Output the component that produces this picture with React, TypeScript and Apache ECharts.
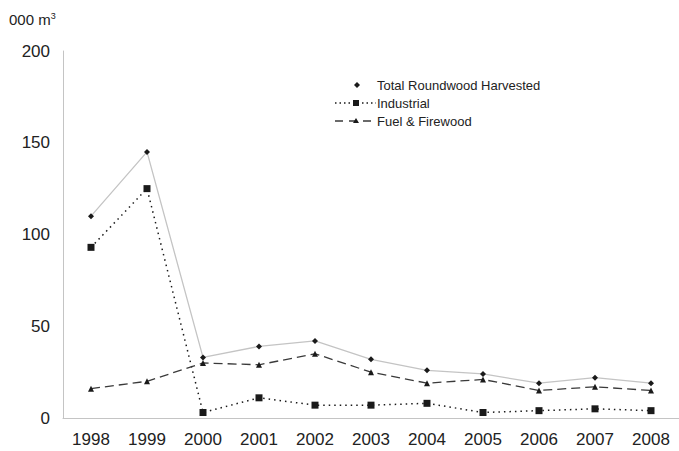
import React, { useEffect, useRef } from "react";
import * as echarts from "echarts";

const years = ["1998", "1999", "2000", "2001", "2002", "2003", "2004", "2005", "2006", "2007", "2008"];
const totalRoundwood = [110, 145, 33, 39, 42, 32, 26, 24, 19, 22, 19];
const industrial = [93, 125, 3, 11, 7, 7, 8, 3, 4, 5, 4];
const fuelFirewood = [16, 20, 30, 29, 35, 25, 19, 21, 15, 17, 15];
const yTicks = { min: 0, max: 200, interval: 50 };

const FONT = "'Liberation Sans', Arial, sans-serif";

export default function App() {
  const ref = useRef<HTMLDivElement>(null);
  useEffect(() => {
    if (!ref.current) return;
    const chart = echarts.init(ref.current, undefined, { renderer: "svg" });
    const legendY = [85, 103, 121];
    chart.setOption({
      animation: false,
      backgroundColor: "#ffffff",
      grid: { left: 63, top: 51, bottom: 33, right: -9, containLabel: false },
      xAxis: {
        type: "category",
        data: years,
        boundaryGap: true,
        axisLine: { show: true, lineStyle: { color: "#c4c4c4", width: 1 } },
        axisTick: { show: false },
        axisLabel: { color: "#222", fontFamily: FONT, fontSize: 17, margin: 13 },
        splitLine: { show: false },
      },
      yAxis: {
        type: "value",
        min: yTicks.min,
        max: yTicks.max,
        interval: yTicks.interval,
        axisLine: { show: true, lineStyle: { color: "#c4c4c4", width: 1 } },
        axisTick: { show: false },
        axisLabel: { color: "#222", fontFamily: FONT, fontSize: 17, margin: 13 },
        splitLine: { show: false },
      },
      series: [
        {
          name: "Total Roundwood Harvested",
          type: "line",
          data: totalRoundwood,
          symbol: "diamond",
          symbolSize: 6,
          itemStyle: { color: "#1a1a1a" },
          lineStyle: { color: "#c4c4c4", width: 1.3, type: "solid" },
          z: 3,
        },
        {
          name: "Industrial",
          type: "line",
          data: industrial,
          symbol: "rect",
          symbolSize: 7,
          itemStyle: { color: "#1a1a1a" },
          lineStyle: { color: "#1a1a1a", width: 1.5, type: [1.5, 4] },
          z: 2,
        },
        {
          name: "Fuel & Firewood",
          type: "line",
          data: fuelFirewood,
          symbol: "triangle",
          symbolSize: 6,
          itemStyle: { color: "#1a1a1a" },
          lineStyle: { color: "#3a3a3a", width: 1.3, type: [9, 5] },
          z: 2,
        },
      ],
      graphic: [
        {
          type: "text",
          left: 9,
          top: 11,
          style: {
            text: "000 m{sup|3}",
            fontFamily: FONT,
            fontSize: 15,
            fill: "#222",
            rich: { sup: { fontSize: 9, verticalAlign: "top", padding: [0, 0, 7, 0], fill: "#222" } },
          },
        },
        // legend row 1
        { type: "polygon", shape: { points: [[357, legendY[0] - 3], [360, legendY[0]], [357, legendY[0] + 3], [354, legendY[0]]] }, style: { fill: "#1a1a1a" } },
        { type: "text", x: 377, y: legendY[0], style: { text: "Total Roundwood Harvested", fontFamily: FONT, fontSize: 13, fill: "#222", verticalAlign: "middle" } },
        // legend row 2
        { type: "line", shape: { x1: 335, y1: legendY[1], x2: 376, y2: legendY[1] }, style: { stroke: "#1a1a1a", lineWidth: 1.3, lineDash: [1.5, 3] } },
        { type: "rect", shape: { x: 353, y: legendY[1] - 3, width: 6, height: 6 }, style: { fill: "#1a1a1a" } },
        { type: "text", x: 377, y: legendY[1], style: { text: "Industrial", fontFamily: FONT, fontSize: 13, fill: "#222", verticalAlign: "middle" } },
        // legend row 3
        { type: "line", shape: { x1: 335, y1: legendY[2], x2: 373, y2: legendY[2] }, style: { stroke: "#3a3a3a", lineWidth: 1.3, lineDash: [8, 6] } },
        { type: "polygon", shape: { points: [[356, legendY[2] - 3], [359, legendY[2] + 2], [353, legendY[2] + 2]] }, style: { fill: "#1a1a1a" } },
        { type: "text", x: 377, y: legendY[2], style: { text: "Fuel & Firewood", fontFamily: FONT, fontSize: 13, fill: "#222", verticalAlign: "middle" } },
      ],
    });
    return () => chart.dispose();
  }, []);
  return <div ref={ref} style={{ position: "fixed", left: 0, top: 0, width: 679, height: 451 }} />;
}
